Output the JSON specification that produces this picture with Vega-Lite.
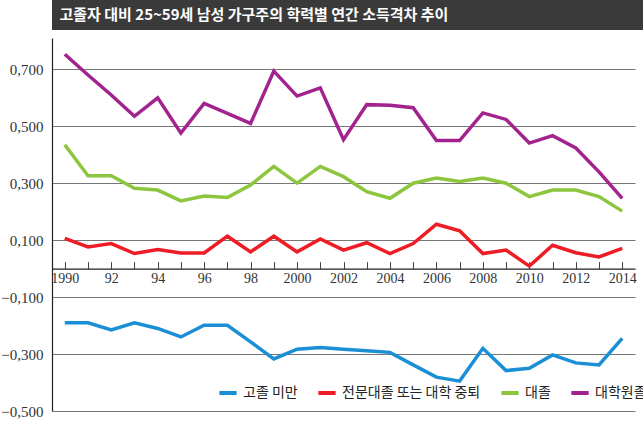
{
"$schema":"https://vega.github.io/schema/vega-lite/v6.json",
"padding":0,"background":"white","spacing":8,
"config":{"font":"Noto Sans CJK KR","view":{"stroke":null}},
"datasets":{"d":[
{"y":1990,"s":"고졸 미만","v":-0.19},{"y":1991,"s":"고졸 미만","v":-0.19},{"y":1992,"s":"고졸 미만","v":-0.215},{"y":1993,"s":"고졸 미만","v":-0.19},{"y":1994,"s":"고졸 미만","v":-0.21},{"y":1995,"s":"고졸 미만","v":-0.24},{"y":1996,"s":"고졸 미만","v":-0.199},{"y":1997,"s":"고졸 미만","v":-0.199},{"y":1998,"s":"고졸 미만","v":-0.257},{"y":1999,"s":"고졸 미만","v":-0.317},{"y":2000,"s":"고졸 미만","v":-0.283},{"y":2001,"s":"고졸 미만","v":-0.277},{"y":2002,"s":"고졸 미만","v":-0.283},{"y":2003,"s":"고졸 미만","v":-0.288},{"y":2004,"s":"고졸 미만","v":-0.294},{"y":2005,"s":"고졸 미만","v":-0.338},{"y":2006,"s":"고졸 미만","v":-0.381},{"y":2007,"s":"고졸 미만","v":-0.395},{"y":2008,"s":"고졸 미만","v":-0.28},{"y":2009,"s":"고졸 미만","v":-0.358},{"y":2010,"s":"고졸 미만","v":-0.35},{"y":2011,"s":"고졸 미만","v":-0.303},{"y":2012,"s":"고졸 미만","v":-0.331},{"y":2013,"s":"고졸 미만","v":-0.338},{"y":2014,"s":"고졸 미만","v":-0.245},
{"y":1990,"s":"전문대졸 또는 대학 중퇴","v":0.106},{"y":1991,"s":"전문대졸 또는 대학 중퇴","v":0.076},{"y":1992,"s":"전문대졸 또는 대학 중퇴","v":0.088},{"y":1993,"s":"전문대졸 또는 대학 중퇴","v":0.053},{"y":1994,"s":"전문대졸 또는 대학 중퇴","v":0.067},{"y":1995,"s":"전문대졸 또는 대학 중퇴","v":0.055},{"y":1996,"s":"전문대졸 또는 대학 중퇴","v":0.055},{"y":1997,"s":"전문대졸 또는 대학 중퇴","v":0.114},{"y":1998,"s":"전문대졸 또는 대학 중퇴","v":0.059},{"y":1999,"s":"전문대졸 또는 대학 중퇴","v":0.114},{"y":2000,"s":"전문대졸 또는 대학 중퇴","v":0.059},{"y":2001,"s":"전문대졸 또는 대학 중퇴","v":0.104},{"y":2002,"s":"전문대졸 또는 대학 중퇴","v":0.065},{"y":2003,"s":"전문대졸 또는 대학 중퇴","v":0.091},{"y":2004,"s":"전문대졸 또는 대학 중퇴","v":0.053},{"y":2005,"s":"전문대졸 또는 대학 중퇴","v":0.088},{"y":2006,"s":"전문대졸 또는 대학 중퇴","v":0.156},{"y":2007,"s":"전문대졸 또는 대학 중퇴","v":0.133},{"y":2008,"s":"전문대졸 또는 대학 중퇴","v":0.053},{"y":2009,"s":"전문대졸 또는 대학 중퇴","v":0.065},{"y":2010,"s":"전문대졸 또는 대학 중퇴","v":0.009},{"y":2011,"s":"전문대졸 또는 대학 중퇴","v":0.082},{"y":2012,"s":"전문대졸 또는 대학 중퇴","v":0.056},{"y":2013,"s":"전문대졸 또는 대학 중퇴","v":0.041},{"y":2014,"s":"전문대졸 또는 대학 중퇴","v":0.071},
{"y":1990,"s":"대졸","v":0.435},{"y":1991,"s":"대졸","v":0.326},{"y":1992,"s":"대졸","v":0.326},{"y":1993,"s":"대졸","v":0.282},{"y":1994,"s":"대졸","v":0.276},{"y":1995,"s":"대졸","v":0.238},{"y":1996,"s":"대졸","v":0.255},{"y":1997,"s":"대졸","v":0.25},{"y":1998,"s":"대졸","v":0.294},{"y":1999,"s":"대졸","v":0.359},{"y":2000,"s":"대졸","v":0.3},{"y":2001,"s":"대졸","v":0.359},{"y":2002,"s":"대졸","v":0.323},{"y":2003,"s":"대졸","v":0.27},{"y":2004,"s":"대졸","v":0.247},{"y":2005,"s":"대졸","v":0.3},{"y":2006,"s":"대졸","v":0.318},{"y":2007,"s":"대졸","v":0.306},{"y":2008,"s":"대졸","v":0.318},{"y":2009,"s":"대졸","v":0.3},{"y":2010,"s":"대졸","v":0.253},{"y":2011,"s":"대졸","v":0.276},{"y":2012,"s":"대졸","v":0.276},{"y":2013,"s":"대졸","v":0.253},{"y":2014,"s":"대졸","v":0.202},
{"y":1990,"s":"대학원졸","v":0.753},{"y":1991,"s":"대학원졸","v":0.68},{"y":1992,"s":"대학원졸","v":0.61},{"y":1993,"s":"대학원졸","v":0.535},{"y":1994,"s":"대학원졸","v":0.6},{"y":1995,"s":"대학원졸","v":0.476},{"y":1996,"s":"대학원졸","v":0.58},{"y":1997,"s":"대학원졸","v":0.545},{"y":1998,"s":"대학원졸","v":0.51},{"y":1999,"s":"대학원졸","v":0.694},{"y":2000,"s":"대학원졸","v":0.606},{"y":2001,"s":"대학원졸","v":0.635},{"y":2002,"s":"대학원졸","v":0.453},{"y":2003,"s":"대학원졸","v":0.576},{"y":2004,"s":"대학원졸","v":0.574},{"y":2005,"s":"대학원졸","v":0.565},{"y":2006,"s":"대학원졸","v":0.45},{"y":2007,"s":"대학원졸","v":0.45},{"y":2008,"s":"대학원졸","v":0.547},{"y":2009,"s":"대학원졸","v":0.524},{"y":2010,"s":"대학원졸","v":0.441},{"y":2011,"s":"대학원졸","v":0.467},{"y":2012,"s":"대학원졸","v":0.424},{"y":2013,"s":"대학원졸","v":0.34},{"y":2014,"s":"대학원졸","v":0.247}
],"t":[{"title":"고졸자 대비 25~59세 남성 가구주의 학력별 연간 소득격차 추이"}]},
"vconcat":[
{"width":643,"height":30,"view":{"fill":"#3a3a3a","stroke":null},
 "data":{"name":"t"},
 "mark":{"type":"text","align":"left","baseline":"middle","dx":-314,"color":"white","fontSize":15,"fontWeight":"bold","font":"Noto Sans CJK KR"},
 "encoding":{"text":{"field":"title"}}},
{"width":583,"height":373,
 "data":{"name":"d"},
 "mark":{"type":"line","strokeWidth":3.5,"strokeJoin":"miter"},
 "encoding":{
  "x":{"field":"y","type":"quantitative","scale":{"domain":[1989.45,2014.55],"nice":false,"zero":false},"title":null,
   "axis":{"offset":-142.4,"values":[1990,1991,1992,1993,1994,1995,1996,1997,1998,1999,2000,2001,2002,2003,2004,2005,2006,2007,2008,2009,2010,2011,2012,2013,2014],
    "labelExpr":"datum.value%2==1?'':(datum.value>1990&&datum.value<2000?substring(toString(datum.value),2,4):toString(datum.value))",
    "grid":false,"domainColor":"#222","domainWidth":1.2,"tickColor":"#444","tickSize":-7,"labelPadding":10,"labelColor":"#333","labelFontSize":14,"labelFont":"Liberation Sans Narrow","labelFlush":false}},
  "y":{"field":"v","type":"quantitative","scale":{"domain":[-0.5,0.81],"nice":false,"zero":false},"title":null,
   "axis":{"values":[-0.5,-0.3,-0.1,0.1,0.3,0.5,0.7],"labelExpr":"replace(format(datum.value,'.3f'),'.',',')",
    "grid":true,"gridColor":"#777","gridWidth":1,"domainColor":"#222","domainWidth":1.2,"ticks":false,"labelPadding":9,"labelColor":"#333","labelFontSize":15,"labelFont":"Liberation Sans Narrow"}},
  "color":{"field":"s","type":"nominal","sort":["고졸 미만","전문대졸 또는 대학 중퇴","대졸","대학원졸"],
   "scale":{"domain":["고졸 미만","전문대졸 또는 대학 중퇴","대졸","대학원졸"],"range":["#1a8fd6","#ee1c25","#8cc63f","#a3238e"]},
   "legend":{"orient":"none","legendX":165,"legendY":382,"direction":"horizontal","title":null,"symbolType":"stroke","symbolStrokeWidth":4,"symbolSize":300,"labelFontSize":14,"labelColor":"#222","columnPadding":12}}
 }}
]}
